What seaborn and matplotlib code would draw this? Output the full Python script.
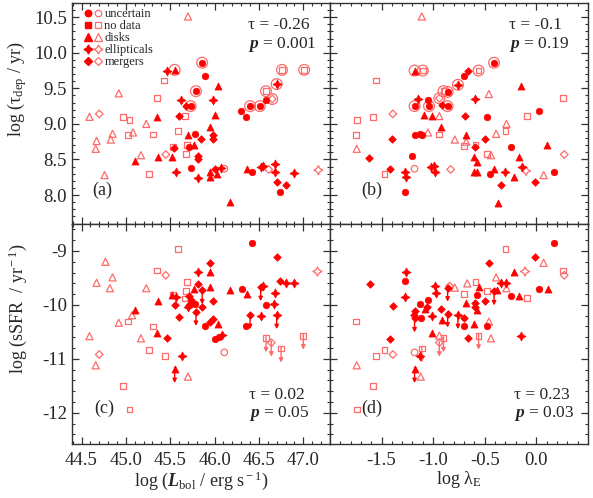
import numpy as np
import pandas as pd
import matplotlib
matplotlib.use('Agg')
import matplotlib.pyplot as plt
from matplotlib.lines import Line2D
from matplotlib.legend_handler import HandlerTuple
from matplotlib.ticker import MultipleLocator, FixedLocator, FormatStrFormatter
import seaborn as sns

# kinds: u = uncertain, n = no data, d = disks, e = ellipticals, m = mergers
kind_names = ['uncertain', 'no data', 'disks', 'ellipticals', 'mergers']
kind_codes = ['u', 'n', 'd', 'e', 'm']

# ---- panel (a): log Lbol vs log tau_dep
a_filled = [(45.86, 9.86, 'u'), (45.89, 9.67, 'u'), (45.79, 9.46, 'u'), (45.73, 9.25, 'u'),
            (45.68, 9.25, 'm'), (46.30, 9.18, 'u'), (46.35, 9.10, 'u'), (46.40, 9.25, 'u'),
            (46.51, 9.25, 'u'), (46.58, 9.33, 'u'), (45.73, 8.38, 'u'), (45.78, 8.86, 'u'),
            (45.71, 8.68, 'u'), (46.42, 8.32, 'u'), (46.74, 8.04, 'u'), (45.46, 9.75, 'e'),
            (45.55, 9.76, 'd'), (46.70, 9.56, 'e'), (46.04, 9.54, 'd'), (45.62, 9.34, 'e'),
            (45.98, 9.34, 'e'), (45.60, 9.11, 'm'), (46.00, 9.13, 'd'), (45.35, 9.10, 'd'),
            (45.95, 8.95, 'd'), (45.70, 8.84, 'd'), (45.85, 8.79, 'm'), (45.98, 8.84, 'm'),
            (45.98, 8.79, 'm'), (45.77, 8.70, 'd'), (45.54, 8.66, 'm'), (45.81, 8.55, 'm'),
            (45.81, 8.51, 'm'), (45.36, 8.53, 'd'), (45.52, 8.53, 'd'), (45.10, 8.48, 'd'),
            (45.57, 8.32, 'e'), (45.81, 8.24, 'e'), (45.95, 8.32, 'd'), (45.95, 8.26, 'd'),
            (46.01, 8.36, 'm'), (46.03, 8.30, 'd'), (46.07, 8.38, 'e'), (46.17, 7.90, 'd'),
            (46.37, 8.36, 'd'), (46.52, 8.40, 'e'), (46.55, 8.41, 'e'), (46.68, 8.43, 'e'),
            (46.68, 8.32, 'e'), (46.70, 8.18, 'm'), (46.81, 8.14, 'm'), (46.89, 8.31, 'e')]
a_open = [(45.70, 10.51, 'd'), (46.76, 9.76, 'n'), (47.01, 9.76, 'n'), (45.43, 9.61, 'n'),
          (46.58, 9.46, 'n'), (44.92, 9.43, 'd'), (45.35, 9.36, 'n'), (46.65, 9.35, 'm'),
          (45.67, 9.11, 'n'), (44.59, 9.10, 'd'), (44.70, 9.14, 'm'), (44.97, 9.10, 'n'),
          (45.04, 9.06, 'n'), (45.23, 9.00, 'd'), (45.59, 8.90, 'n'), (45.08, 8.88, 'd'),
          (44.85, 8.86, 'd'), (45.02, 8.84, 'n'), (45.31, 8.85, 'n'), (44.67, 8.76, 'd'),
          (44.83, 8.78, 'd'), (45.69, 8.70, 'n'), (45.53, 8.68, 'n'), (44.66, 8.65, 'd'),
          (45.68, 8.58, 'n'), (45.45, 8.57, 'm'), (45.17, 8.56, 'd'), (45.26, 8.30, 'n'),
          (44.76, 8.28, 'd'), (46.11, 8.37, 'u'), (46.61, 8.36, 'm'), (47.17, 8.35, 'e')]
a_rings = [(45.86, 9.86), (45.55, 9.76), (46.76, 9.76), (47.01, 9.76), (45.79, 9.46),
           (46.58, 9.46), (46.70, 9.56), (46.65, 9.35), (45.73, 9.25), (46.40, 9.25),
           (46.51, 9.25)]

# ---- panel (b): log lambda_E vs log tau_dep
b_filled = [(-1.18, 9.75, 'd'), (-0.66, 9.75, 'm'), (-0.70, 9.67, 'u'), (-0.41, 9.86, 'u'),
            (-0.76, 9.55, 'e'), (-0.86, 9.45, 'u'), (-0.15, 9.53, 'd'), (-0.59, 9.35, 'e'),
            (-1.15, 9.35, 'e'), (-1.05, 9.34, 'u'), (-1.18, 9.25, 'u'), (-1.04, 9.25, 'u'),
            (-0.86, 9.25, 'u'), (-0.91, 9.26, 'm'), (-1.09, 9.12, 'd'), (-1.01, 9.11, 'd'),
            (-0.69, 9.11, 'm'), (-0.48, 9.10, 'u'), (0.03, 9.18, 'u'), (-0.92, 8.95, 'd'),
            (-1.40, 8.79, 'm'), (-1.18, 8.84, 'u'), (-1.13, 8.86, 'u'), (-1.11, 8.84, 'u'),
            (-0.68, 8.84, 'd'), (-0.50, 8.79, 'm'), (-0.59, 8.67, 'm'), (-0.25, 8.68, 'u'),
            (0.10, 8.70, 'd'), (-1.62, 8.52, 'm'), (-1.20, 8.55, 'u'), (-0.60, 8.53, 'd'),
            (-0.58, 8.47, 'd'), (-0.60, 8.32, 'd'), (-0.58, 8.32, 'd'), (-0.17, 8.53, 'd'),
            (-1.42, 8.36, 'm'), (-1.27, 8.32, 'e'), (-1.26, 8.25, 'e'), (-1.02, 8.40, 'e'),
            (-0.99, 8.41, 'e'), (-0.98, 8.32, 'e'), (-1.27, 8.04, 'u'), (-0.45, 8.30, 'u'),
            (-0.41, 8.36, 'd'), (-0.30, 8.32, 'e'), (-0.22, 8.26, 'd'), (-0.14, 8.39, 'e'),
            (-0.34, 8.14, 'm'), (-0.37, 7.89, 'd'), (-0.01, 8.18, 'm'), (0.17, 8.32, 'u')]
b_open = [(-1.11, 10.51, 'd'), (-1.10, 9.75, 'n'), (-0.56, 9.75, 'n'), (-1.55, 9.61, 'n'),
          (-0.90, 9.46, 'n'), (-0.94, 9.36, 'm'), (-0.46, 9.42, 'd'), (0.26, 9.36, 'n'),
          (-1.39, 9.14, 'm'), (-1.58, 9.10, 'n'), (-1.74, 9.06, 'n'), (-0.94, 9.11, 'd'),
          (-0.09, 9.11, 'n'), (-0.29, 9.00, 'd'), (-1.75, 8.84, 'n'), (-1.05, 8.88, 'd'),
          (-0.94, 8.85, 'n'), (-0.79, 8.78, 'd'), (-0.68, 8.75, 'd'), (-0.70, 8.69, 'n'),
          (-0.39, 8.86, 'd'), (-0.30, 8.90, 'n'), (-0.59, 8.70, 'n'), (-1.74, 8.65, 'd'),
          (-0.48, 8.58, 'n'), (-0.44, 8.56, 'd'), (0.27, 8.57, 'm'), (-1.47, 8.30, 'n'),
          (-1.18, 8.37, 'u'), (-0.83, 8.36, 'm'), (-0.10, 8.34, 'e'), (0.07, 8.28, 'd')]
b_rings = [(-1.18, 9.75), (-1.10, 9.75), (-0.56, 9.75), (-0.41, 9.86), (-0.76, 9.55),
           (-0.86, 9.45), (-0.90, 9.46), (-0.94, 9.36), (-1.18, 9.25), (-1.04, 9.25),
           (-0.86, 9.25)]

# ---- panel (c): log Lbol vs log sSFR
c_filled = [(46.42, -8.85, 'u'), (45.95, -9.22, 'm'), (46.70, -9.12, 'm'), (45.81, -9.39, 'e'),
            (45.95, -9.39, 'd'), (45.81, -9.61, 'm'), (46.74, -9.55, 'm'), (46.81, -9.60, 'e'),
            (46.89, -9.60, 'e'), (45.95, -9.67, 'd'), (46.31, -9.71, 'u'), (46.17, -9.72, 'd'),
            (46.37, -9.80, 'd'), (46.52, -9.67, 'm'), (46.55, -9.65, 'e'), (46.68, -9.77, 'e'),
            (45.86, -9.73, 'm'), (45.77, -9.71, 'd'), (45.52, -9.82, 'd'), (45.57, -9.85, 'e'),
            (45.71, -9.84, 'm'), (45.73, -9.91, 'm'), (45.71, -10.00, 'm'), (45.78, -9.98, 'u'),
            (45.36, -9.93, 'd'), (45.98, -9.93, 'm'), (45.55, -10.00, 'm'), (45.86, -10.03, 'm'),
            (45.70, -10.04, 'e'), (46.58, -10.00, 'u'), (46.67, -9.99, 'e'), (45.10, -10.10, 'd'),
            (45.79, -10.13, 'm'), (45.60, -10.23, 'm'), (46.40, -10.19, 'm'), (46.52, -10.20, 'e'),
            (46.70, -10.19, 'e'), (45.98, -10.27, 'm'), (45.95, -10.31, 'm'), (46.04, -10.36, 'd'),
            (45.89, -10.40, 'u'), (46.35, -10.40, 'u'), (45.35, -10.52, 'd'), (45.46, -10.62, 'm'),
            (46.01, -10.64, 'u'), (46.05, -10.59, 'u'), (46.08, -10.56, 'e'), (45.63, -10.95, 'e'),
            (45.55, -11.19, 'd')]
c_open = [(45.59, -8.96, 'n'), (44.77, -9.20, 'd'), (47.16, -9.38, 'e'), (45.35, -9.36, 'n'),
          (45.45, -9.45, 'm'), (44.67, -9.59, 'd'), (44.85, -9.49, 'd'), (44.82, -9.69, 'd'),
          (45.23, -9.69, 'd'), (45.69, -9.58, 'n'), (45.68, -9.74, 'n'), (45.53, -9.81, 'n'),
          (45.67, -9.88, 'n'), (45.07, -10.19, 'd'), (44.92, -10.33, 'd'), (45.02, -10.31, 'n'),
          (45.31, -10.40, 'n'), (44.59, -10.58, 'd'), (45.17, -10.62, 'd'), (45.26, -10.83, 'n'),
          (45.44, -10.95, 'n'), (46.11, -10.88, 'u'), (46.58, -10.62, 'n'), (46.64, -10.70, 'm'),
          (46.75, -10.81, 'n'), (47.00, -10.57, 'n'), (44.70, -10.92, 'm'), (44.66, -11.12, 'd'),
          (45.70, -11.33, 'd'), (44.97, -11.51, 'n'), (45.04, -11.94, 'n')]
# upper limits (x, y, filled?)
c_limits = [(46.52, -9.67, True), (45.86, -9.73, True), (45.79, -10.13, True),
            (46.40, -10.19, True), (46.70, -10.19, True), (45.55, -11.19, True),
            (46.58, -10.62, False), (46.64, -10.70, False), (46.75, -10.81, False),
            (47.00, -10.57, False)]

# ---- panel (d): log lambda_E vs log sSFR
d_filled = [(0.17, -8.85, 'u'), (-0.01, -9.12, 'm'), (-0.46, -9.22, 'm'), (-1.26, -9.39, 'e'),
            (-1.27, -9.55, 'u'), (-1.61, -9.61, 'm'), (-0.22, -9.39, 'd'), (-0.34, -9.60, 'e'),
            (-0.29, -9.60, 'e'), (-0.56, -9.67, 'd'), (-0.86, -9.68, 'm'), (-0.98, -9.64, 'e'),
            (-0.97, -9.77, 'e'), (-0.41, -9.75, 'm'), (-0.38, -9.72, 'd'), (-0.25, -9.83, 'u'),
            (-0.17, -9.83, 'd'), (0.03, -9.71, 'u'), (0.11, -9.71, 'd'), (-1.27, -9.85, 'e'),
            (-0.58, -9.82, 'u'), (-0.50, -9.93, 'm'), (-0.68, -9.97, 'd'), (-0.59, -9.96, 'm'),
            (-0.59, -10.04, 'm'), (-0.58, -10.10, 'd'), (-1.05, -9.90, 'u'), (-1.13, -9.98, 'u'),
            (-1.06, -10.04, 'm'), (-1.08, -10.07, 'd'), (-1.39, -10.02, 'm'), (-1.18, -10.11, 'm'),
            (-1.19, -10.19, 'm'), (-1.12, -10.25, 'u'), (-1.18, -10.25, 'm'), (-1.01, -10.20, 'e'),
            (-0.92, -10.08, 'm'), (-0.86, -10.16, 'm'), (-0.91, -10.28, 'd'), (-0.76, -10.19, 'e'),
            (-0.70, -10.24, 'm'), (-0.70, -10.40, 'u'), (-0.60, -10.35, 'd'), (-0.48, -10.40, 'u'),
            (-1.01, -10.52, 'd'), (-0.66, -10.62, 'm'), (-0.15, -10.58, 'e'), (-1.42, -10.64, 'm'),
            (-1.13, -10.95, 'e'), (-1.18, -11.19, 'd')]
d_open = [(-0.30, -8.96, 'n'), (0.07, -9.22, 'd'), (-0.11, -9.38, 'e'), (0.26, -9.36, 'n'),
          (0.27, -9.45, 'm'), (-0.39, -9.49, 'd'), (-0.67, -9.60, 'd'), (-0.59, -9.58, 'n'),
          (-0.84, -9.65, 'm'), (-0.79, -9.68, 'd'), (-0.29, -9.69, 'd'), (-0.48, -9.74, 'n'),
          (-0.70, -9.80, 'n'), (-0.09, -9.87, 'n'), (-0.46, -10.31, 'd'), (-0.94, -10.57, 'd'),
          (-0.90, -10.62, 'n'), (-0.94, -10.70, 'm'), (-0.56, -10.57, 'n'), (-0.44, -10.62, 'd'),
          (-1.75, -10.31, 'n'), (-1.47, -10.83, 'n'), (-1.55, -10.95, 'n'), (-1.39, -10.92, 'm'),
          (-1.18, -10.88, 'u'), (-1.11, -10.81, 'n'), (-1.74, -11.12, 'd'), (-1.12, -11.33, 'd'),
          (-1.58, -11.51, 'n'), (-1.74, -11.94, 'n')]
d_limits = [(-0.86, -9.68, True), (-0.41, -9.75, True), (-1.18, -10.25, True),
            (-0.86, -10.16, True), (-0.76, -10.19, True), (-1.18, -11.19, True),
            (-0.90, -10.62, False), (-0.94, -10.70, False), (-0.56, -10.57, False),
            (-1.11, -10.81, False)]

# correlation results per panel
tau_vals = ['-0.26', '-0.1', '0.02', '0.23']
p_vals = ['0.001', '0.19', '0.05', '0.03']
panel_tags = ['(a)', '(b)', '(c)', '(d)']

lbol_ticks = [44.5, 45.0, 45.5, 46.0, 46.5, 47.0]
lam_ticks = [-1.5, -1.0, -0.5, 0.0]

RED = '#ff0000'
PINK = '#ff6a6a'
markers = {'u': 'o', 'n': 's', 'd': '^', 'e': (4, 1, 0), 'm': 'D'}
sizes = {'u': 22, 'n': 17, 'd': 26, 'e': 42, 'm': 15}

sns.set_style('ticks')
plt.rcParams['font.family'] = ['Liberation Serif', 'DejaVu Serif']
plt.rcParams['mathtext.fontset'] = 'custom'
plt.rcParams['mathtext.rm'] = 'Liberation Serif'
plt.rcParams['mathtext.it'] = 'Liberation Serif:italic'
plt.rcParams['mathtext.bf'] = 'Liberation Serif:bold'
plt.rcParams['mathtext.bfit'] = 'Liberation Serif:italic:bold'
plt.rcParams['axes.unicode_minus'] = False
plt.rcParams['xtick.direction'] = 'in'
plt.rcParams['ytick.direction'] = 'in'
plt.rcParams['xtick.top'] = True
plt.rcParams['ytick.right'] = True


def draw_points(ax, pts, filled):
    df = pd.DataFrame(pts, columns=['x', 'y', 'kind'])
    for k in kind_codes:
        sub = df[df['kind'] == k]
        if len(sub) == 0:
            continue
        if filled:
            sns.scatterplot(data=sub, x='x', y='y', marker=markers[k], s=sizes[k],
                            color=RED, edgecolor=RED, linewidth=0.5, ax=ax, zorder=3)
        else:
            sns.scatterplot(data=sub, x='x', y='y', marker=markers[k], s=sizes[k],
                            facecolor='none', edgecolor=PINK, linewidth=0.9, ax=ax, zorder=3)


def draw_rings(ax, rings):
    df = pd.DataFrame(rings, columns=['x', 'y'])
    sns.scatterplot(data=df, x='x', y='y', marker='o', s=60, facecolor='none',
                    edgecolor=PINK, linewidth=0.9, ax=ax, zorder=2)


def draw_limits(ax, limits):
    for x, y, f in limits:
        ax.annotate('', xy=(x, y - 0.26), xytext=(x, y + 0.03),
                    arrowprops=dict(arrowstyle='-|>', color=RED if f else PINK, lw=1.0,
                                    mutation_scale=6, shrinkA=0, shrinkB=0), zorder=2)


fig, axes = plt.subplots(2, 2, figsize=(5.93, 4.98), dpi=100)
fig.subplots_adjust(left=0.121, right=0.9916, bottom=0.1084, top=0.994, wspace=0, hspace=0)

panels = [(a_filled, a_open, a_rings, None), (b_filled, b_open, b_rings, None),
          (c_filled, c_open, None, c_limits), (d_filled, d_open, None, d_limits)]

for i, ax in enumerate(axes.flat):
    filled, opened, rings, limits = panels[i]
    if rings:
        draw_rings(ax, rings)
    if limits:
        draw_limits(ax, limits)
    draw_points(ax, opened, False)
    draw_points(ax, filled, True)
    ax.set_xlabel('')
    ax.set_ylabel('')
    for s in ax.spines.values():
        s.set_linewidth(1.0)
        s.set_color('#333333')
    ax.tick_params(which='major', length=5, width=0.9, color='#333333', labelsize=13.5)
    ax.tick_params(which='minor', length=2.5, width=0.8, color='#333333')
    ax.tick_params(axis='x', which='major', pad=6)

# limits and ticks
for ax in axes[0]:
    ax.set_ylim(7.6, 10.7)
    ax.yaxis.set_major_locator(MultipleLocator(0.5))
    ax.yaxis.set_minor_locator(MultipleLocator(0.1))
    ax.yaxis.set_major_formatter(FormatStrFormatter('%.1f'))
for ax in axes[1]:
    ax.set_ylim(-12.58, -8.49)
    ax.yaxis.set_major_locator(MultipleLocator(1))
    ax.yaxis.set_minor_locator(MultipleLocator(0.2))
    ax.yaxis.set_major_formatter(FormatStrFormatter('%d'))
for ax in axes[:, 0]:
    ax.set_xlim(44.39, 47.3)
    ax.xaxis.set_major_locator(FixedLocator(lbol_ticks))
    ax.xaxis.set_minor_locator(MultipleLocator(0.1))
    ax.xaxis.set_major_formatter(FormatStrFormatter('%.1f'))
for ax in axes[:, 1]:
    ax.set_xlim(-2.0, 0.5)
    ax.xaxis.set_major_locator(FixedLocator(lam_ticks))
    ax.xaxis.set_minor_locator(MultipleLocator(0.1))
    ax.xaxis.set_major_formatter(FormatStrFormatter('%.1f'))
    ax.tick_params(labelleft=False)
for ax in axes[0]:
    ax.tick_params(labelbottom=False)

# panel annotations
txt_pos = [(0.683, 0.90, 0.81), (0.694, 0.90, 0.81), (0.688, 0.222, 0.14), (0.713, 0.222, 0.14)]
tag_pos = [(0.12, 0.15), (0.163, 0.15), (0.126, 0.163), (0.163, 0.16)]
for i, ax in enumerate(axes.flat):
    tx, ty1, ty2 = txt_pos[i]
    ax.text(tx, ty1, 'τ = ' + tau_vals[i], transform=ax.transAxes, fontsize=12.5,
            ha='left', va='center')
    ax.text(tx, ty2, r'$\mathbfit{p}$ = ' + p_vals[i], transform=ax.transAxes, fontsize=12.5,
            ha='left', va='center')
    ax.text(tag_pos[i][0], tag_pos[i][1], panel_tags[i], transform=ax.transAxes,
            fontsize=13, ha='center', va='center')

# axis labels
axes[0, 0].set_ylabel(r'log (τ$_{\rm dep}$ / yr)', fontsize=13)
axes[0, 0].yaxis.set_label_coords(-0.165, 0.61)
axes[1, 0].set_ylabel(r'log (sSFR  / yr$^{\rm -1}$)', fontsize=13)
axes[1, 0].yaxis.set_label_coords(-0.165, 0.615)
axes[1, 0].set_xlabel(r'log ($\mathbfit{L}_{\rm bol}$ / erg s$^{\rm -1}$)', fontsize=13)
axes[1, 1].set_xlabel(r'log λ$_{\rm E}$', fontsize=13)
axes[1, 0].xaxis.labelpad = 0
axes[1, 1].xaxis.labelpad = 0

# legend with filled + open marker pairs
handles = []
for k in kind_codes:
    h1 = Line2D([], [], ls='none', marker=markers[k], ms=np.sqrt(sizes[k]),
                color=RED, mec=RED)
    h2 = Line2D([], [], ls='none', marker=markers[k], ms=np.sqrt(sizes[k]),
                mfc='none', mec=PINK, mew=0.9)
    handles.append((h1, h2))
axes[0, 0].legend(handles, kind_names, handler_map={tuple: HandlerTuple(ndivide=None, pad=0.3)},
                  loc='upper left', bbox_to_anchor=(0.03, 1.0), frameon=False, fontsize=9,
                  handlelength=1.3, handletextpad=0.3, labelspacing=0.0,
                  borderaxespad=0.2, borderpad=0.2)

fig.savefig('out.png', dpi=100)
